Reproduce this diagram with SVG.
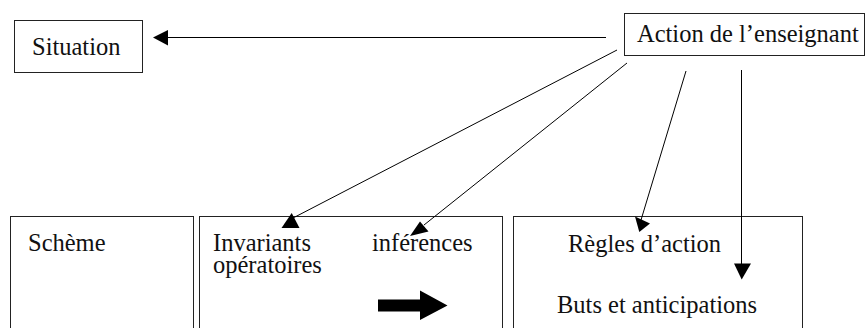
<svg xmlns="http://www.w3.org/2000/svg" width="865" height="328" viewBox="0 0 865 328">
<style>
.box{fill:#fff;stroke:#222;stroke-width:1}
.t{font-family:"Liberation Serif","DejaVu Serif",serif;font-size:24.5px;fill:#111}
.ln{stroke:#000;stroke-width:1;fill:none}
.hd{fill:#000;stroke:none}
</style>
<rect width="865" height="328" fill="#fff"/>
<g id="situation">
<rect class="box" x="14.5" y="20.5" width="128" height="52"/>
<text class="t" x="32" y="54.5">Situation</text>
</g>
<g id="action">
<rect class="box" x="624.5" y="13.5" width="240" height="42"/>
<text class="t" x="637" y="42">Action de l’enseignant</text>
</g>
<g id="scheme">
<rect class="box" x="10.5" y="216.5" width="183" height="120"/>
<text class="t" x="28" y="251">Schème</text>
</g>
<g id="invariants">
<rect class="box" x="199.5" y="216.5" width="303" height="120"/>
<text class="t" x="213" y="251"><tspan x="213" y="251">Invariants</tspan><tspan x="213" y="273">opératoires</tspan></text>
<text class="t" x="372" y="251">inférences</text>
<polygon class="hd" points="378,299.5 420,299.5 420,290.5 447.5,305.5 420,320 420,311.5 378,311.5"/>
</g>
<g id="regles">
<rect class="box" x="513.5" y="216.5" width="289" height="120"/>
<text class="t" x="568" y="251.5">Règles d’action</text>
<text class="t" x="557" y="312.5">Buts et anticipations</text>
</g>
<g id="connectors">
<line class="ln" x1="606" y1="37.5" x2="166" y2="37.5"/>
<polygon class="hd" points="153,37.5 168,30 168,45.5"/>
<line class="ln" x1="617" y1="50" x2="293" y2="218"/>
<polygon class="hd" points="291.7,213 281.5,228 299.5,228"/>
<line class="ln" x1="627" y1="63" x2="424" y2="225"/>
<polygon class="hd" points="420,221.5 428.5,231.5 410,236"/>
<line class="ln" x1="686" y1="71" x2="641" y2="220"/>
<polygon class="hd" points="635,216.5 650,223.5 639.3,232"/>
<line class="ln" x1="741.5" y1="70" x2="741.5" y2="264"/>
<polygon class="hd" points="734,263.5 751,263.5 741.7,279.5"/>
</g>
</svg>
